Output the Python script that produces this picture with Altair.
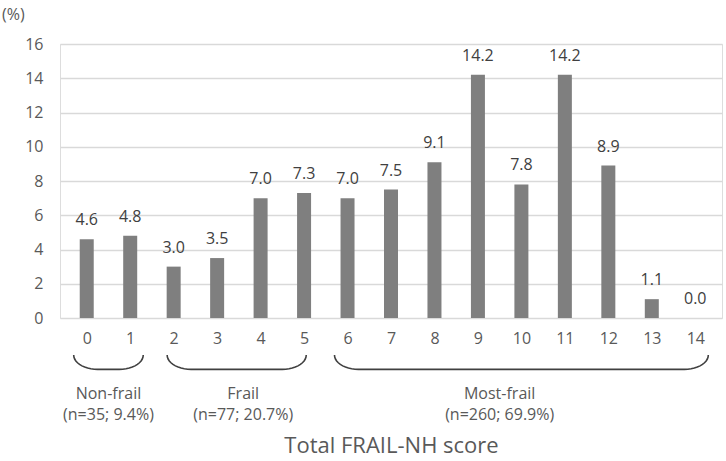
import altair as alt
import pandas as pd
import numpy as np

# FRAIL-NH total score distribution (% of residents)
scores = list(range(15))
percents = [4.6, 4.8, 3.0, 3.5, 7.0, 7.3, 7.0, 7.5, 9.1, 14.2, 7.8, 14.2, 8.9, 1.1, 0.0]

# Frailty groups: label lines, score span covered by each brace, label centre
group_names = ["Non-frail", "Frail", "Most-frail"]
group_counts = ["(n=35; 9.4%)", "(n=77; 20.7%)", "(n=260; 69.9%)"]
group_start = [-0.3, 1.85, 5.7]
group_end = [1.3, 5.05, 14.3]
group_center = [0.5, 3.6, 9.5]

y_unit = ["(%)"]

FONT = "Open Sans"
TEXT = "#595959"

bars_df = pd.DataFrame({"score": scores, "pct": percents})
bars_df["label"] = [f"{v:.1f}" for v in percents]

# Brace outlines below the score labels (drawn in data units below zero)
y_top, y_bot, rx = -2.16, -3.0, 0.55
rows = []
for g, (x0, x1) in enumerate(zip(group_start, group_end)):
    k = 0
    for t in np.linspace(0, np.pi / 2, 12):
        rows.append({"g": g, "k": k, "x": x0 + rx - rx * np.cos(t), "y": y_top - (y_top - y_bot) * np.sin(t)})
        k += 1
    for t in np.linspace(np.pi / 2, 0, 12):
        rows.append({"g": g, "k": k, "x": x1 - rx + rx * np.cos(t), "y": y_top - (y_top - y_bot) * np.sin(t)})
        k += 1
brace_df = pd.DataFrame(rows)

groups_df = pd.DataFrame({
    "x": group_center,
    "y": [-3.95] * 3,
    "text": [f"{n}\n{c}" for n, c in zip(group_names, group_counts)],
})

x_scale = alt.Scale(domain=[-0.5, 14.5], nice=False, zero=False)
y_scale = alt.Scale(domain=[0, 16], nice=False)

x_axis = alt.Axis(
    values=scores, format="d", grid=False, ticks=False, domain=False,
    labelOverlap=False, labelPadding=12, title="Total FRAIL-NH score",
    titleY=134, titleBaseline="alphabetic",
)
y_axis = alt.Axis(
    values=list(range(0, 17, 2)), grid=True, gridColor="#d9d9d9", gridWidth=1.5,
    ticks=False, domain=False, labelOverlap=False, labelPadding=17, title=None,
)


def xy(xf, yf):
    return dict(
        x=alt.X(xf, type="quantitative", scale=x_scale, axis=x_axis),
        y=alt.Y(yf, type="quantitative", scale=y_scale, axis=y_axis),
    )


bars = alt.Chart(bars_df).mark_bar(size=14, color="#7f7f7f").encode(**xy("score", "pct"))

values = alt.Chart(bars_df).mark_text(
    font=FONT, fontSize=16, color="#404040", baseline="alphabetic", dy=-14
).encode(text="label:N", **xy("score", "pct"))

braces = alt.Chart(brace_df).mark_line(
    color="#404040", strokeWidth=1.6, clip=False
).encode(detail="g:N", order="k:Q", **xy("x", "y"))

group_text = alt.Chart(groups_df).mark_text(
    font=FONT, fontSize=16, color=TEXT, lineBreak="\n", lineHeight=21,
    baseline="top", clip=False
).encode(text="text:N", **xy("x", "y"))

# Unit caption above the value axis
unit = alt.Chart(pd.DataFrame({"t": y_unit})).mark_text(
    font=FONT, fontSize=16, color=TEXT, align="left", baseline="middle", clip=False
).encode(text="t:N", x=alt.value(-58), y=alt.value(-29))

chart = (
    alt.layer(bars, values, braces, group_text, unit)
    .properties(
        width=662, height=274,
        autosize=alt.AutoSizeParams(type="none"),
        padding={"left": 60, "top": 44, "right": 4, "bottom": 143},
    )
    .configure_view(stroke=None)
    .configure(background="white")
    .configure_axis(
        labelFont=FONT, labelFontSize=16, labelColor=TEXT,
        titleFont=FONT, titleFontWeight="normal", titleColor=TEXT,
    )
    .configure_axisX(titleFontSize=22)
)

chart.save("out.html", embed_options={"renderer": "svg", "actions": False})
